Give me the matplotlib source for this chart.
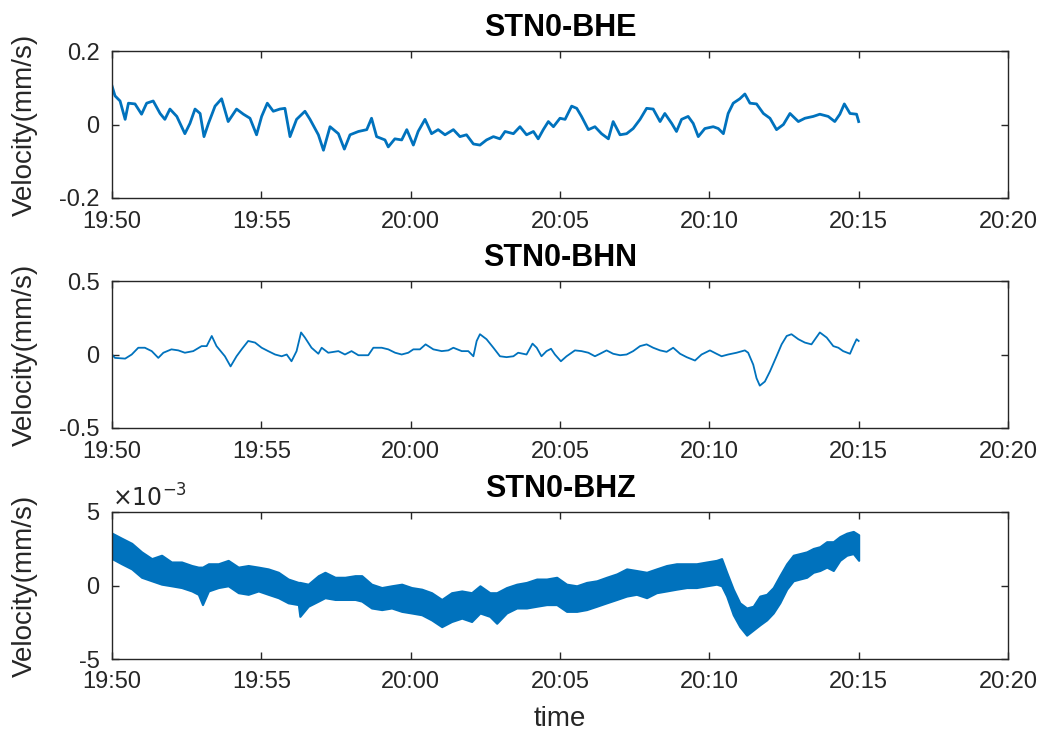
import numpy as np
import matplotlib
matplotlib.use("Agg")
import matplotlib.pyplot as plt
from matplotlib.ticker import FixedLocator

plt.rcParams["font.family"] = ["Liberation Sans", "DejaVu Sans"]
plt.rcParams["axes.unicode_minus"] = False

# ── Data (minutes after 19:50) ────────────────────────────────────────
tick_minutes = [0, 5, 10, 15, 20, 25, 30]
tick_labels = ["19:50", "19:55", "20:00", "20:05", "20:10", "20:15", "20:20"]
titles = ["STN0-BHE", "STN0-BHN", "STN0-BHZ"]

bhe_t = [0, 0.1, 0.27, 0.44, 0.55, 0.77, 0.99, 1.16, 1.38, 1.61, 1.77, 1.94, 2.17,
         2.44, 2.61, 2.78, 2.95, 3.08, 3.23, 3.45, 3.67, 3.89, 4.17, 4.4, 4.62, 4.84,
         5.01, 5.2, 5.4, 5.62, 5.79, 5.96, 6.18, 6.46, 6.63, 6.91, 7.08, 7.3, 7.58,
         7.78, 7.97, 8.25, 8.53, 8.69, 8.86, 9.14, 9.25, 9.47, 9.7, 9.87, 10.09, 10.25,
         10.48, 10.7, 10.92, 11.15, 11.43, 11.65, 11.87, 12.1, 12.32, 12.54, 12.77,
         12.99, 13.16, 13.44, 13.66, 13.88, 14.11, 14.27, 14.44, 14.61, 14.78, 15.0,
         15.17, 15.39, 15.56, 15.72, 15.95, 16.17, 16.39, 16.62, 16.78, 17.01, 17.23,
         17.45, 17.68, 17.9, 18.12, 18.35, 18.51, 18.74, 18.9, 19.07, 19.29, 19.46,
         19.63, 19.85, 20.13, 20.3, 20.47, 20.63, 20.8, 21.02, 21.19, 21.36, 21.58,
         21.81, 22.03, 22.25, 22.48, 22.7, 22.98, 23.2, 23.48, 23.7, 23.98, 24.2,
         24.37, 24.52, 24.71, 24.93, 25.0]
bhe_v = [0.105, 0.078, 0.064, 0.014, 0.058, 0.056, 0.028, 0.058, 0.064, 0.03, 0.014,
         0.042, 0.022, -0.025, 0.003, 0.042, 0.03, -0.033, 0.003, 0.05, 0.07, 0.008,
         0.042, 0.028, 0.017, -0.028, 0.022, 0.058, 0.036, 0.042, 0.044, -0.033, 0.014,
         0.036, 0.014, -0.028, -0.07, -0.006, -0.025, -0.067, -0.028, -0.019, -0.014,
         0.017, -0.033, -0.042, -0.061, -0.039, -0.042, -0.014, -0.056, -0.019, 0.014,
         -0.025, -0.014, -0.028, -0.014, -0.033, -0.028, -0.053, -0.056, -0.042, -0.033,
         -0.039, -0.019, -0.025, -0.006, -0.028, -0.019, -0.039, -0.014, 0.008, -0.006,
         0.017, 0.014, 0.05, 0.044, 0.022, -0.014, -0.006, -0.025, -0.039, 0.008,
         -0.028, -0.025, -0.011, 0.014, 0.044, 0.042, 0.008, 0.03, 0.003, -0.019, 0.014,
         0.022, 0.003, -0.033, -0.011, -0.006, -0.011, -0.025, 0.03, 0.058, 0.07, 0.083,
         0.058, 0.056, 0.03, 0.017, -0.014, 0.0, 0.03, 0.008, 0.017, 0.022, 0.028,
         0.022, 0.008, 0.028, 0.056, 0.03, 0.028, 0.008]

bhn_t = [0, 0.1, 0.44, 0.66, 0.88, 1.1, 1.33, 1.55, 1.72, 1.99, 2.22, 2.44, 2.72, 3.0,
         3.17, 3.34, 3.5, 3.78, 3.97, 4.17, 4.34, 4.56, 4.79, 5.01, 5.23, 5.46, 5.68,
         5.85, 6.01, 6.18, 6.33, 6.46, 6.68, 6.91, 7.02, 7.24, 7.58, 7.8, 8.02, 8.25,
         8.58, 8.75, 9.03, 9.25, 9.48, 9.7, 9.92, 10.09, 10.31, 10.5, 10.76, 11.04,
         11.26, 11.43, 11.71, 11.93, 12.1, 12.21,
         12.32, 12.54, 12.77, 12.99, 13.21, 13.44, 13.6, 13.88, 14.08, 14.22, 14.38,
         14.55, 14.7, 14.83, 15.03, 15.22, 15.5, 15.72, 15.95, 16.17, 16.34, 16.56,
         16.78, 17.01, 17.23, 17.45, 17.68, 17.9, 18.12, 18.35, 18.57, 18.79, 19.02,
         19.24, 19.52, 19.74, 20.02, 20.24, 20.41, 20.63, 20.91, 21.19, 21.3, 21.47,
         21.58, 21.69, 21.86, 22.03, 22.25, 22.42, 22.59, 22.75, 22.98, 23.2, 23.42,
         23.54, 23.7, 23.93, 24.15, 24.32, 24.48, 24.71, 24.82, 24.93, 25.0]
bhn_v = [0, -0.023, -0.028, 0, 0.046, 0.046, 0.023, -0.023, 0.012, 0.035, 0.028, 0.012,
         0.023, 0.057, 0.057, 0.126, 0.057, -0.012, -0.081, -0.012, 0.035, 0.092, 0.081,
         0.046, 0.023, 0, -0.012, 0, -0.046, 0.023, 0.15, 0.115, 0.046, 0.005, 0.046,
         0.012, 0.023, 0, 0.023, -0.005, -0.005, 0.046, 0.046, 0.035, 0.012, 0, 0.012,
         0.035, 0.035, 0.069, 0.035, 0.023, 0.028, 0.046, 0.023, 0.023, -0.012, 0.092,
         0.138, 0.104, 0.046, -0.012, -0.018, -0.012, 0.012, 0, 0.074, 0.046, -0.012,
         0.023, 0.039, 0, -0.046, -0.012, 0.028, 0.023, 0.012, -0.012, 0.005, 0.028,
         0.005, -0.005, 0, 0.023, 0.057, 0.069, 0.046, 0.028, 0.018, 0.046, 0.005,
         -0.018, -0.041, 0, 0.028, 0.005, -0.012, 0, 0.012, 0.028, 0.012, -0.069,
         -0.161, -0.212, -0.184, -0.115, -0.012, 0.069, 0.126, 0.138, 0.104, 0.081,
         0.069, 0.104, 0.15, 0.115, 0.057, 0.046, 0.023, 0.005, 0.057, 0.104, 0.092]

# BHZ is a dense noisy band: upper / lower envelope, in units of 1e-3 mm/s
bhz_t = [0.0, 0.32, 0.66, 0.99, 1.33, 1.66, 1.99, 2.33, 2.67, 2.89, 3.03, 3.23, 3.56,
         3.89, 4.23, 4.56, 4.9, 5.23, 5.57, 5.9, 6.24, 6.29, 6.57, 6.91, 7.13, 7.47,
         7.8, 8.14, 8.36, 8.69, 9.03, 9.36, 9.7, 10.03, 10.37, 10.7, 11.04, 11.37,
         11.71, 12.04, 12.32, 12.65, 12.88, 13.21, 13.55, 13.88, 14.22, 14.55, 14.89,
         15.22, 15.56, 15.89, 16.23, 16.56, 16.9, 17.23, 17.56, 17.9, 18.23, 18.57,
         18.9, 19.24, 19.57, 19.91, 20.24, 20.41, 20.58, 20.8, 21.02, 21.25, 21.47,
         21.69, 21.92, 22.14, 22.36, 22.59, 22.81, 23.03, 23.26, 23.48, 23.7, 23.93,
         24.15, 24.37, 24.6, 24.82, 25.0]
bhz_upper = [3.56, 3.22, 2.87, 2.29, 1.83, 2.06, 1.60, 1.60, 1.36, 1.25, 1.25, 1.48,
             1.48, 1.71, 1.25, 1.36, 1.25, 1.13, 0.90, 0.44, 0.21, 0.21, 0.09, 0.67,
             0.90, 0.56, 0.56, 0.67, 0.67, 0.09, -0.14, -0.02, 0.09, -0.14, -0.25,
             -0.49, -0.95, -0.49, -0.37, -0.49, -0.02, -0.49, -0.49, -0.14, 0.09, 0.21,
             0.44, 0.44, 0.56, 0.09, -0.02, 0.21, 0.32, 0.56, 0.79, 1.13, 1.02, 0.90,
             1.13, 1.36, 1.48, 1.48, 1.48, 1.60, 1.71, 1.83, 0.90, -0.25, -1.18, -1.53,
             -1.41, -0.72, -0.60, -0.14, 0.67, 1.48, 2.06, 2.17, 2.29, 2.52, 2.64, 2.98,
             2.98, 3.33, 3.56, 3.68, 3.45]
bhz_lower = [1.83, 1.48, 1.13, 0.56, 0.32, 0.09, -0.02, -0.14, -0.37, -0.60, -1.30,
             -0.37, -0.14, -0.02, -0.49, -0.60, -0.37, -0.60, -0.83, -1.18, -1.30,
             -2.10, -1.41, -1.06, -0.83, -0.95, -0.95, -0.95, -1.06, -1.53, -1.64,
             -1.53, -1.76, -1.87, -1.99, -2.34, -2.80, -2.45, -2.22, -2.45, -1.87,
             -2.10, -2.57, -1.87, -1.53, -1.53, -1.41, -1.30, -1.30, -1.76, -1.76,
             -1.64, -1.41, -1.18, -0.95, -0.72, -0.60, -0.83, -0.49, -0.37, -0.25,
             -0.14, -0.14, -0.02, 0.09, -0.02, -0.72, -1.99, -2.80, -3.38, -3.03, -2.68,
             -2.34, -1.87, -1.18, -0.25, 0.32, 0.44, 0.56, 0.90, 1.02, 1.25, 1.02, 1.71,
             2.06, 2.17, 1.71]
bhz_scale = 1e-3

# ── Style ──────────────────────────────────────────────────────────────
LINE = "#0072BD"
AXC = "#262626"
TICK_FS = 17
LABEL_FS = 20
TITLE_FS = 22

fig = plt.figure(figsize=(10.46, 7.33), dpi=100)
W, H = 1046, 733
left, width = 112 / W, 896 / W
tops = [51, 281, 512]
hgt = 147
axes = [fig.add_axes([left, 1 - (t + hgt) / H, width, hgt / H]) for t in tops]


def style(ax, ylim, yticks, ylabels, title):
    ax.set_xlim(tick_minutes[0], tick_minutes[-1])
    ax.set_ylim(*ylim)
    ax.xaxis.set_major_locator(FixedLocator(tick_minutes))
    ax.set_xticklabels(tick_labels)
    ax.set_yticks(yticks)
    ax.set_yticklabels(ylabels)
    ax.tick_params(direction="in", top=True, right=True, length=5, width=1.0,
                   colors=AXC, labelsize=TICK_FS)
    ax.tick_params(axis="x", pad=9)
    ax.tick_params(axis="y", pad=9)
    for s in ax.spines.values():
        s.set_color(AXC)
        s.set_linewidth(1.0)
    ax.set_title(title, fontsize=TITLE_FS, fontweight="bold", pad=11, color="black")
    ax.set_ylabel("Velocity(mm/s)", fontsize=LABEL_FS, color=AXC)
    ax.yaxis.set_label_coords(-0.083, 0.5)


# 1) BHE
ax = axes[0]
ax.plot(bhe_t, bhe_v, color=LINE, lw=2.0)
style(ax, (-0.2, 0.2), [-0.2, 0, 0.2], ["-0.2", "0", "0.2"], titles[0])

# 2) BHN
ax = axes[1]
ax.plot(bhn_t, bhn_v, color=LINE, lw=1.3)
style(ax, (-0.5, 0.5), [-0.5, 0, 0.5], ["-0.5", "0", "0.5"], titles[1])

# 3) BHZ
ax = axes[2]
up = np.array(bhz_upper) * bhz_scale
lo = np.array(bhz_lower) * bhz_scale
ax.fill_between(bhz_t, lo, up, color=LINE, lw=1.5, edgecolor=LINE)
style(ax, (-5e-3, 5e-3), [-5e-3, 0, 5e-3], ["-5", "0", "5"], titles[2])
ax.text(0.0, 1.005, r"$\times10^{-3}$", transform=ax.transAxes, ha="left",
        va="bottom", fontsize=TICK_FS, color=AXC)
ax.set_xlabel("time", fontsize=LABEL_FS, color=AXC, labelpad=9)

fig.savefig("out.png", dpi=100)
